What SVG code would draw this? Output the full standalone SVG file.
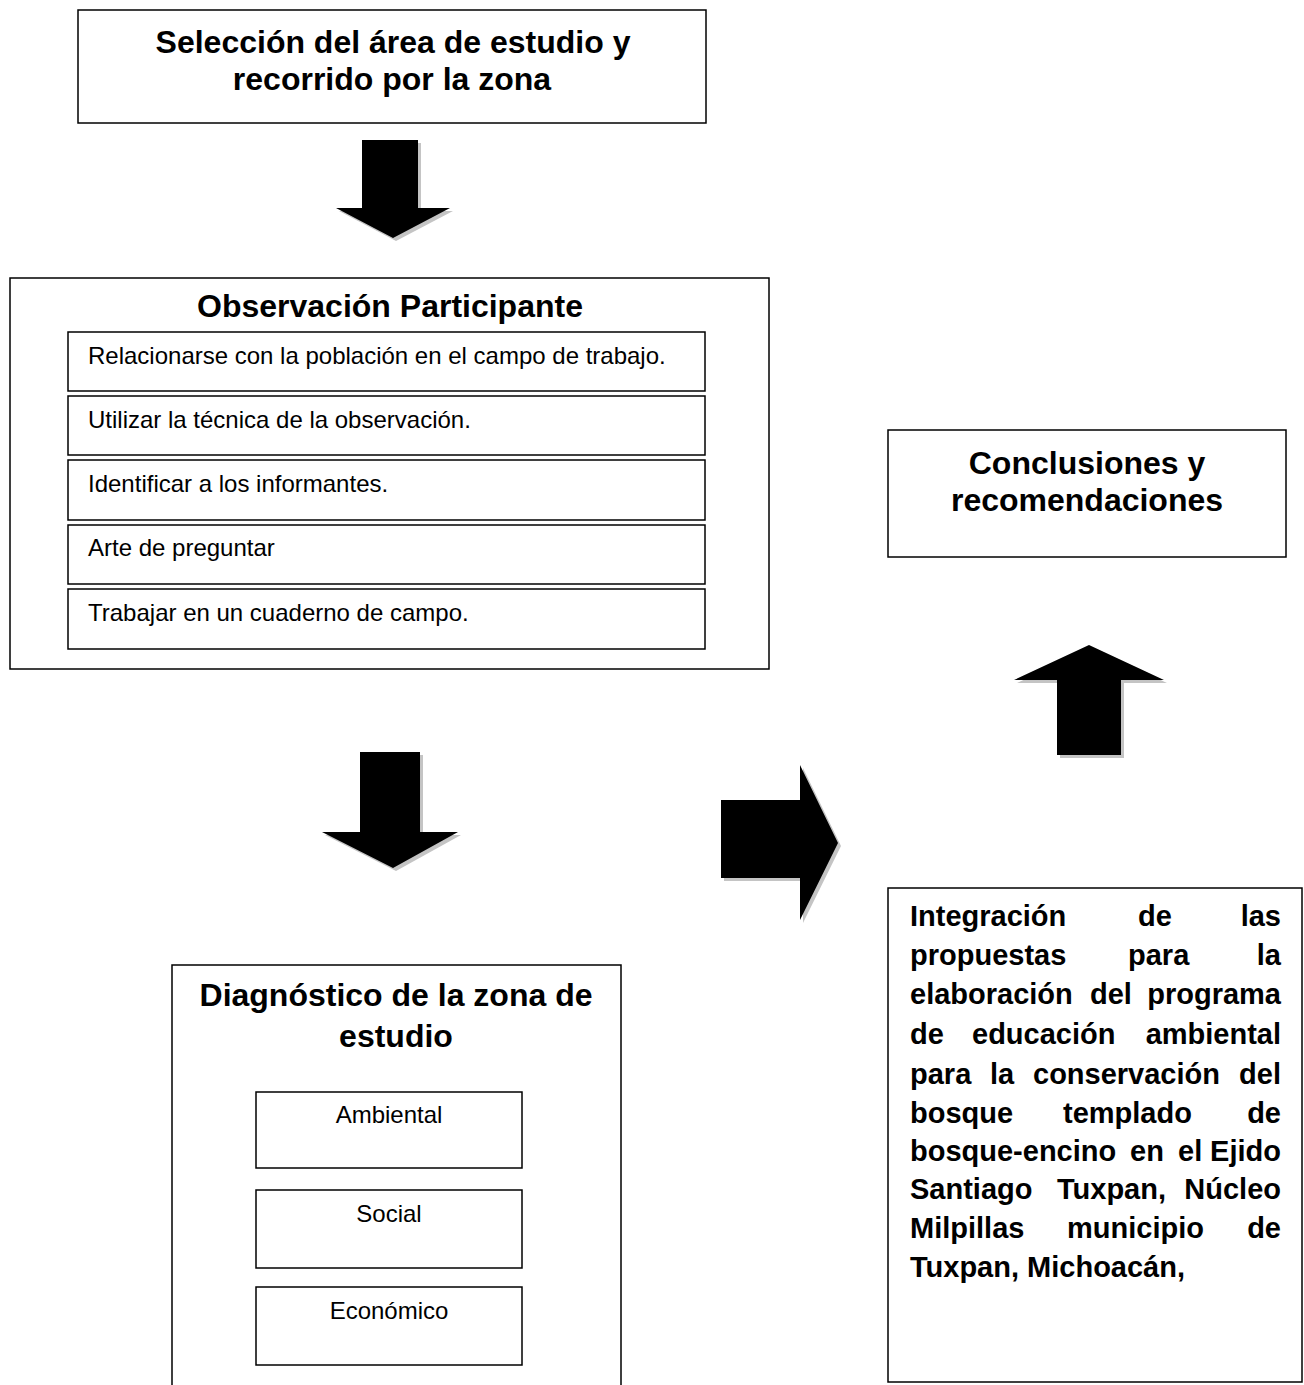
<svg xmlns="http://www.w3.org/2000/svg" width="1304" height="1385" viewBox="0 0 1304 1385">
<style>
.box{fill:#fff;stroke:#000;stroke-width:1.5}
.t{font-family:"Liberation Sans",Arial,sans-serif;fill:#000}
.b{font-weight:bold}
.arr{fill:#000}
.sh{fill:#c4c4c4}
</style>
<rect width="1304" height="1385" fill="#fff"/>
<g id="n-seleccion">
<rect class="box" x="78" y="10" width="628" height="113"/>
<text class="t b" x="393" y="53" font-size="32" text-anchor="middle">Selección del área de estudio y</text>
<text class="t b" x="392" y="90" font-size="32" text-anchor="middle">recorrido por la zona</text>
</g>
<g id="n-observacion">
<rect class="box" x="10" y="278" width="759" height="391"/>
<text class="t b" x="390" y="317" font-size="32" text-anchor="middle">Observación Participante</text>
<rect class="box" x="68" y="332" width="637" height="59"/>
<text class="t" x="88" y="364" font-size="24">Relacionarse con la población en el campo de trabajo.</text>
<rect class="box" x="68" y="396" width="637" height="59"/>
<text class="t" x="88" y="428" font-size="24">Utilizar la técnica de la observación.</text>
<rect class="box" x="68" y="460" width="637" height="60"/>
<text class="t" x="88" y="492" font-size="24">Identificar a los informantes.</text>
<rect class="box" x="68" y="525" width="637" height="59"/>
<text class="t" x="88" y="556" font-size="24">Arte de preguntar</text>
<rect class="box" x="68" y="589" width="637" height="60"/>
<text class="t" x="88" y="621" font-size="24">Trabajar en un cuaderno de campo.</text>
</g>
<g id="n-diagnostico">
<path class="box" d="M172,1385 V965 H621 V1385" fill="#fff"/>
<text class="t b" x="396" y="1006" font-size="32" text-anchor="middle">Diagnóstico de la zona de</text>
<text class="t b" x="396" y="1047" font-size="32" text-anchor="middle">estudio</text>
<rect class="box" x="256" y="1092" width="266" height="76"/>
<text class="t" x="389" y="1123" font-size="24" text-anchor="middle">Ambiental</text>
<rect class="box" x="256" y="1190" width="266" height="78"/>
<text class="t" x="389" y="1222" font-size="24" text-anchor="middle">Social</text>
<rect class="box" x="256" y="1287" width="266" height="78"/>
<text class="t" x="389" y="1319" font-size="24" text-anchor="middle">Económico</text>
</g>
<g id="n-integracion">
<rect class="box" x="888" y="888" width="414" height="494"/>
<g class="t b" font-size="29">
<text x="910" y="926">Integración</text><text x="1138" y="926">de</text><text x="1281" y="926" text-anchor="end">las</text>
<text x="910" y="965">propuestas</text><text x="1128" y="965">para</text><text x="1281" y="965" text-anchor="end">la</text>
<text x="910" y="1004">elaboración</text><text x="1090" y="1004">del</text><text x="1281" y="1004" text-anchor="end">programa</text>
<text x="910" y="1044">de</text><text x="972" y="1044">educación</text><text x="1281" y="1044" text-anchor="end">ambiental</text>
<text x="910" y="1084">para</text><text x="990" y="1084">la</text><text x="1033" y="1084">conservación</text><text x="1281" y="1084" text-anchor="end">del</text>
<text x="910" y="1123">bosque</text><text x="1063" y="1123">templado</text><text x="1281" y="1123" text-anchor="end">de</text>
<text x="910" y="1161">bosque-encino</text><text x="1130" y="1161">en</text><text x="1178" y="1161">el</text><text x="1281" y="1161" text-anchor="end">Ejido</text>
<text x="910" y="1199">Santiago</text><text x="1057" y="1199">Tuxpan,</text><text x="1281" y="1199" text-anchor="end">Núcleo</text>
<text x="910" y="1238">Milpillas</text><text x="1067" y="1238">municipio</text><text x="1281" y="1238" text-anchor="end">de</text>
<text x="910" y="1277">Tuxpan, Michoacán,</text>
</g>
</g>
<g id="n-conclusiones">
<rect class="box" x="888" y="430" width="398" height="127"/>
<text class="t b" x="1087" y="474" font-size="32" text-anchor="middle">Conclusiones y</text>
<text class="t b" x="1087" y="511" font-size="32" text-anchor="middle">recomendaciones</text>
</g>
<g id="connectors">
<polygon class="sh" points="365,143 421,143 421,211 453,211 396,241 339,211 365,211"/>
<polygon class="arr" points="362,140 418,140 418,208 450,208 393,238 336,208 362,208"/>
<polygon class="sh" points="363,755 423,755 423,835 461,835 396,871 325,835 363,835"/>
<polygon class="arr" points="360,752 420,752 420,832 458,832 393,868 322,832 360,832"/>
<polygon class="sh" points="724,803 803,803 803,768 841,846 803,923 803,881 724,881"/>
<polygon class="arr" points="721,800 800,800 800,765 838,843 800,920 800,878 721,878"/>
<polygon class="sh" points="1060,758 1060,683 1017,683 1092,648 1167,683 1124,683 1124,758"/>
<polygon class="arr" points="1057,755 1057,680 1014,680 1089,645 1164,680 1121,680 1121,755"/>
</g>
</svg>
